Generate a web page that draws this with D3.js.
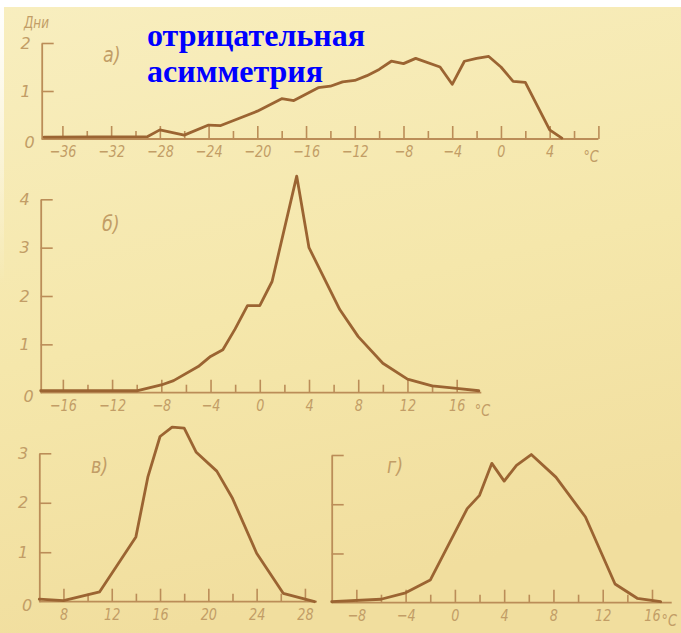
<!DOCTYPE html>
<html>
<head>
<meta charset="utf-8">
<script src="https://cdn.jsdelivr.net/npm/d3@7/dist/d3.min.js"></script>
<style>
  html, body { margin: 0; padding: 0; background: #ffffff; }
  svg { display: block; }
  .tick text, .lbl { font-family: "DejaVu Sans", "Liberation Sans", sans-serif; font-style: italic; }
</style>
</head>
<body>
<svg id="chart" width="681" height="633"></svg>
<script>
// Distribution of days by mean daily air temperature (four panels)
// а) — negative skew
const tempA = [-37.5, -29, -28, -26, -24, -23, -22, -20, -18, -17, -15, -14, -13, -12, -11, -10, -9, -8, -7, -5, -4, -3, -2, -1, 0, 1, 2, 4, 5];
const daysA = [0.04, 0.05, 0.19, 0.08, 0.29, 0.28, 0.38, 0.58, 0.84, 0.80, 1.07, 1.10, 1.19, 1.22, 1.32, 1.45, 1.62, 1.57, 1.68, 1.50, 1.14, 1.62, 1.68, 1.72, 1.50, 1.20, 1.18, 0.19, 0.02];
// б)
const tempB = [-17.8, -10, -8, -7, -5, -4, -3, -2, -1, 0, 1, 3, 4, 6.5, 8, 10, 12, 14, 16, 17.8];
const daysB = [0.04, 0.04, 0.16, 0.25, 0.54, 0.75, 0.89, 1.32, 1.80, 1.80, 2.30, 4.48, 3.00, 1.72, 1.16, 0.61, 0.28, 0.14, 0.09, 0.04];
// в)
const tempC = [6, 8, 11, 14, 15, 16, 17, 18, 19, 20.7, 22, 24, 26.2, 28.8];
const daysC = [0.05, 0.02, 0.20, 1.31, 2.53, 3.34, 3.53, 3.51, 3.02, 2.64, 2.09, 0.98, 0.17, 0.0];
// г)
const tempD = [-10, -6, -4, -2, 1, 2, 3, 4, 5, 6.2, 8.2, 10.6, 13, 14.8, 16.7];
const daysD = [0.02, 0.07, 0.20, 0.46, 1.91, 2.18, 2.83, 2.47, 2.79, 3.01, 2.55, 1.74, 0.38, 0.09, 0.02];

// Axis ticks and labels
const ticksA = d3.range(-36, 9, 2);
const ticksB = d3.range(-16, 17, 2);
const ticksC = d3.range(8, 29, 2);
const ticksD = d3.range(-8, 17, 2);
const yTicksA = [0, 1, 2];
const yTicksB = [0, 1, 2, 3, 4];
const yTicksC = [0, 1, 2, 3];
const titleLines = ["отрицательная", "асимметрия"];
const yTitle = "Дни";
const unit = "°C";

const svg = d3.select("#chart");
const W = 681, H = 633;
const narrow = 0.8; // horizontal squeeze for the narrow drafting lettering

// paper background
const defs = svg.append("defs");
const g1 = defs.append("linearGradient").attr("id", "paper").attr("x1", 0).attr("y1", 0).attr("x2", 0.25).attr("y2", 1);
g1.append("stop").attr("offset", "0%").attr("stop-color", "#f8eebf");
g1.append("stop").attr("offset", "55%").attr("stop-color", "#f5e7ab");
g1.append("stop").attr("offset", "100%").attr("stop-color", "#f1de9e");
const g2 = defs.append("linearGradient").attr("id", "edge").attr("x1", 0).attr("y1", 0).attr("x2", 0).attr("y2", 1);
g2.append("stop").attr("offset", "0%").attr("stop-color", "#ffffff").attr("stop-opacity", 1);
g2.append("stop").attr("offset", "45%").attr("stop-color", "#ffffff").attr("stop-opacity", 0);

svg.append("rect").attr("width", W).attr("height", H).attr("fill", "url(#paper)");
svg.append("rect").attr("x", 0).attr("y", 0).attr("width", W).attr("height", 7).attr("fill", "#ffffff");
svg.append("rect").attr("x", 0).attr("y", 0).attr("width", 4).attr("height", H).attr("fill", "url(#edge)");

const curveColor = "#9b6432";
const axisColor = "#bb8d58";
const textColor = "#c29d66";

// text placed at (x, y) and squeezed horizontally about that point
function narrowText(sel, x, y) {
  return sel.attr("x", 0).attr("y", 0)
    .attr("transform", `translate(${x},${y}) scale(${narrow},1)`);
}

function panel(opt) {
  const x = d3.scaleLinear().domain(opt.xDomain).range(opt.xRange);
  const y = d3.scaleLinear().domain(opt.yDomain).range(opt.yRange);
  const g = svg.append("g");

  // x axis: ticks point up, labels below
  const xa = g.append("g")
    .attr("transform", `translate(0,${opt.yRange[0]})`)
    .call(d3.axisBottom(x)
      .tickValues(opt.xTicks)
      .tickSizeInner(-8)
      .tickSizeOuter(0)
      .tickPadding(7)
      .tickFormat(opt.xFormat));
  xa.select(".domain").attr("stroke", axisColor).attr("stroke-width", 1.8)
    .attr("d", `M${opt.xRange[0]},0H${opt.xRange[1]}`);
  xa.selectAll(".tick line").attr("stroke", axisColor).attr("stroke-width", 1.6)
    .attr("y2", d => (opt.major(d) ? -13 : -8));
  xa.selectAll(".tick text").attr("fill", textColor).attr("font-size", 16)
    .attr("transform", `scale(${narrow},1)`);

  // y axis: ticks point right
  const ya = g.append("g")
    .attr("transform", `translate(${opt.xRange[0]},0)`)
    .call(d3.axisLeft(y)
      .tickValues(opt.yTicks)
      .tickSizeInner(-12)
      .tickSizeOuter(0)
      .tickPadding(opt.showY ? 11 : 0)
      .tickFormat(opt.showY ? d3.format("d") : () => ""));
  ya.select(".domain").attr("stroke", axisColor).attr("stroke-width", 1.8);
  ya.selectAll(".tick line").attr("stroke", axisColor).attr("stroke-width", 1.6)
    .filter(d => d === 0).remove();
  ya.selectAll(".tick text").attr("fill", textColor).attr("font-size", 16)
    .attr("dx", d => (d === 0 ? 4 : 0)).attr("dy", d => (d === 0 ? "0.55em" : "0.32em"));

  // curve
  const pts = opt.tx.map((t, i) => [t, opt.vy[i]]);
  g.append("path")
    .datum(pts)
    .attr("fill", "none")
    .attr("stroke", curveColor)
    .attr("stroke-width", 2.8)
    .attr("stroke-linejoin", "round")
    .attr("stroke-linecap", "round")
    .attr("d", d3.line().x(d => x(d[0])).y(d => y(d[1])));

  // panel letter
  narrowText(g.append("text").attr("class", "lbl"), opt.letterPos[0], opt.letterPos[1])
    .attr("fill", textColor).attr("font-size", 22)
    .text(opt.letter);

  if (opt.unitPos) {
    narrowText(g.append("text").attr("class", "lbl"), x(opt.unitPos), opt.yRange[0] + 23)
      .attr("text-anchor", "middle")
      .attr("fill", textColor).attr("font-size", 16)
      .text(unit);
  }
  return { x, y };
}

const by4 = d => d % 4 === 0;
const fmtBy4 = d => (d % 4 === 0 ? d3.format("d")(d) : "");

panel({
  xDomain: [-37.7, 8], xRange: [41.7, 598.4],
  yDomain: [0, 2], yRange: [139, 43],
  xTicks: ticksA, yTicks: yTicksA, major: by4,
  xFormat: d => (d === 8 ? "" : fmtBy4(d)),
  showY: true, tx: tempA, vy: daysA,
  letter: "а)", letterPos: [103, 62], unitPos: 7.4
});

panel({
  xDomain: [-17.8, 18], xRange: [40.7, 481.3],
  yDomain: [0, 4], yRange: [392.7, 199.3],
  xTicks: ticksB, yTicks: yTicksB, major: by4,
  xFormat: fmtBy4,
  showY: true, tx: tempB, vy: daysB,
  letter: "б)", letterPos: [102, 231], unitPos: 18.1
});

panel({
  xDomain: [6, 29], xRange: [39.3, 317],
  yDomain: [0, 3], yRange: [601.7, 453.3],
  xTicks: ticksC, yTicks: yTicksC, major: by4,
  xFormat: fmtBy4,
  showY: true, tx: tempC, vy: daysC,
  letter: "в)", letterPos: [91, 473], unitPos: null
});

panel({
  xDomain: [-10, 17.6], xRange: [331.7, 671.7],
  yDomain: [0, 3], yRange: [602.7, 455],
  xTicks: ticksD, yTicks: yTicksC, major: by4,
  xFormat: fmtBy4,
  showY: false, tx: tempD, vy: daysD,
  letter: "г)", letterPos: [387, 473], unitPos: 17.4
});

// y-axis caption
narrowText(svg.append("text").attr("class", "lbl"), 24, 28)
  .attr("fill", textColor).attr("font-size", 15)
  .text(yTitle);

// heading
svg.append("g").selectAll("text")
  .data(titleLines)
  .join("text")
  .attr("x", 147)
  .attr("y", (d, i) => 46 + i * 36)
  .attr("font-family", "'Liberation Serif', 'Times New Roman', serif")
  .attr("font-weight", "bold")
  .attr("font-size", 32)
  .attr("fill", "#0000ff")
  .text(d => d);
</script>
</body>
</html>
